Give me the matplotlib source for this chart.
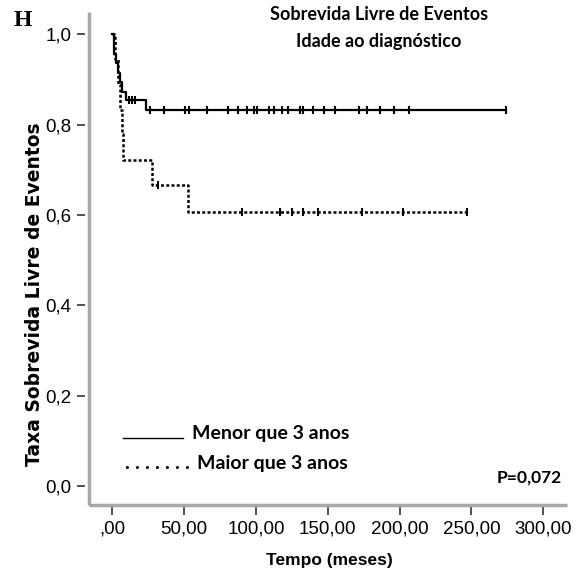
import matplotlib
matplotlib.use("Agg")
import matplotlib.pyplot as plt
from matplotlib.lines import Line2D

# Kaplan-Meier steps (time in months, survival)
menor_t = [0, 1.0, 2.5, 4.0, 5.5, 7.0, 9.5, 23.5, 274.2]
menor_s = [1.0, 0.957, 0.936, 0.915, 0.894, 0.872, 0.854, 0.832, 0.832]
menor_cens_t = [11.4, 13.7, 16.0,
                26.3, 36.0, 50.6, 53.6, 66.2, 80.9, 87.8, 93.6, 98.8, 100.6,
                109.3, 112.6, 117.9, 122.5, 130.7, 133.0, 140.0, 147.4, 155.0,
                172.0, 177.2, 186.4, 196.2, 206.6, 274.2]
menor_cens_s = [0.854] * 3 + [0.832] * 25

maior_t = [0, 2.0, 4.0, 5.5, 6.5, 7.5, 27.5, 53.0, 246.8]
maior_s = [1.0, 0.944, 0.889, 0.833, 0.778, 0.722, 0.667, 0.607, 0.607]
maior_cens_t = [32.0, 90.0, 116.7, 124.9, 133.0, 143.5, 173.7, 202.6, 246.8]
maior_cens_s = [0.667] + [0.607] * 8

x_ticks = [0, 50, 100, 150, 200, 250, 300]
x_labels = [",00", "50,00", "100,00", "150,00", "200,00", "250,00", "300,00"]
y_ticks = [0.0, 0.2, 0.4, 0.6, 0.8, 1.0]
y_labels = ["0,0", "0,2", "0,4", "0,6", "0,8", "1,0"]

W, H = 583, 577


def px(x, y):
    # pixel position (from top-left) -> figure fraction
    return x / W, 1 - y / H


fig = plt.figure(figsize=(W / 100, H / 100), dpi=100)
ax = fig.add_axes([89 / W, 1 - 505 / H, (567 - 89) / W, (505 - 12) / H])

ax.step(menor_t, menor_s, where="post", color="black", lw=1.6)
ax.step(maior_t, maior_s, where="post", color="black", lw=1.8,
        linestyle=(0, (1.2, 0.9)))
ax.plot(menor_cens_t, menor_cens_s, linestyle="none", marker="|",
        ms=6, mew=1.5, color="black")
ax.plot(maior_cens_t, maior_cens_s, linestyle="none", marker="|",
        ms=6, mew=1.5, color="black")

ax.set_xlim(-16.2, 316.6)
ax.set_ylim(-0.042, 1.049)

# gray axis lines, ticks slightly detached from them
for side in ["top", "right", "left", "bottom"]:
    ax.spines[side].set_color("none")
ax.spines["left"].set_position(("outward", 3))
ax.spines["bottom"].set_position(("outward", 1.5))
ax.plot([0, 0], [0, 1], transform=ax.transAxes, color="#a8a8a8", lw=2.5,
        clip_on=False, solid_capstyle="butt")
ax.plot([0, 1], [0, 0], transform=ax.transAxes, color="#a8a8a8", lw=2.5,
        clip_on=False, solid_capstyle="butt")

ax.set_xticks(x_ticks)
ax.set_xticklabels(x_labels)
ax.set_yticks(y_ticks)
ax.set_yticklabels(y_labels)
ax.tick_params(direction="out", length=5.5, width=1.1, color="#222222",
               labelsize=13.5, pad=4)
for lab in ax.get_xticklabels() + ax.get_yticklabels():
    lab.set_family("Liberation Sans")

fig.text(*px(329, 561), "Tempo (meses)", ha="center", va="center",
         family="Liberation Sans", fontweight="bold", fontsize=12.5)
fig.text(*px(35, 294), "Taxa Sobrevida Livre de Eventos", ha="center",
         va="center", rotation=90, family="DejaVu Sans",
         fontweight="bold", fontsize=13.5)

fig.text(*px(379, 15), "Sobrevida Livre de Eventos", ha="center",
         va="center", family="Lato", fontweight="bold", fontsize=13)
fig.text(*px(379, 41), "Idade ao diagnóstico", ha="center",
         va="center", family="Lato", fontweight="bold", fontsize=13)

fig.text(*px(23, 20), "H", ha="center", va="center",
         family="Liberation Serif", fontweight="bold", fontsize=17)

# legend drawn as in the original: a rule / dots followed by text
fig.add_artist(Line2D([122.7 / W, 182.7 / W], [1 - 438.3 / H] * 2,
                      color="black", lw=1.0))
fig.text(*px(191.7, 434), "Menor que 3 anos", ha="left", va="center",
         family="Lato", fontweight="bold", fontsize=14)
fig.text(*px(125, 463), ". . . . . . .", ha="left", va="center",
         family="Lato", fontweight="bold", fontsize=15)
fig.text(*px(196.7, 463), "Maior que 3 anos", ha="left",
         va="center", family="Lato", fontweight="bold", fontsize=14)

fig.text(*px(562, 478), "P=0,072", ha="right", va="center",
         family="Lato", fontweight="bold", fontsize=12.5)

fig.savefig("out.png", dpi=100)
